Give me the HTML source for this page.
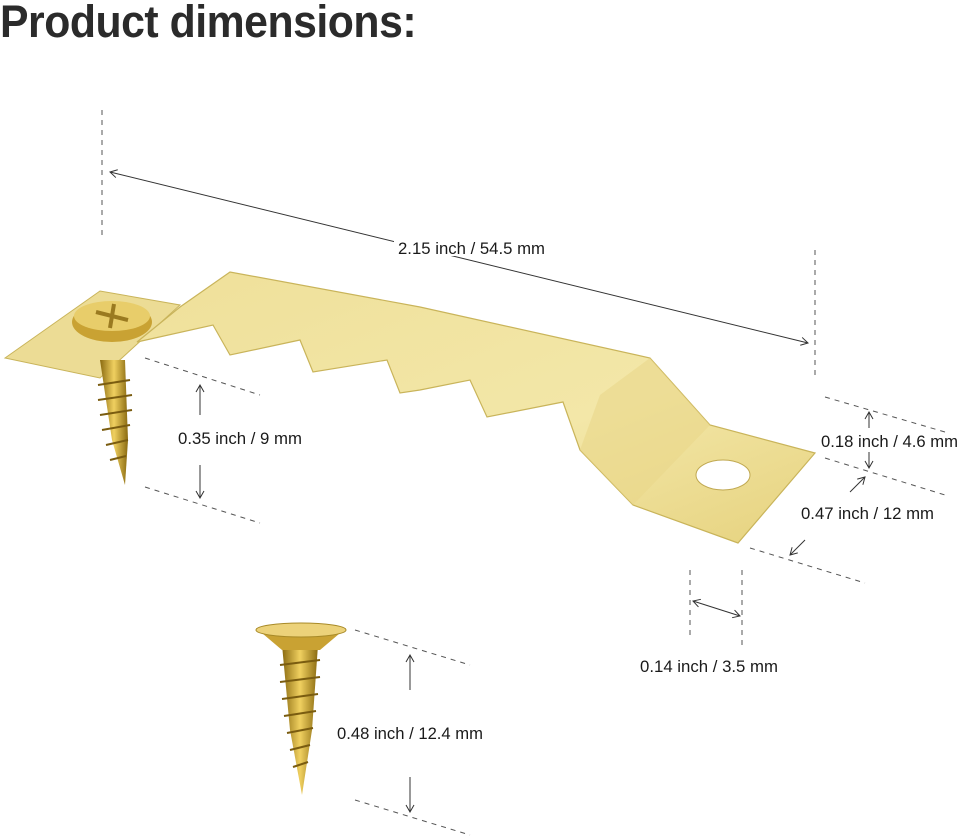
<!DOCTYPE html>
<html><head><meta charset="utf-8"><style>
body{margin:0;background:#fff;width:960px;height:840px;overflow:hidden;position:relative;font-family:"Liberation Sans",sans-serif}
h1{position:absolute;left:0;top:-4px;margin:0;font-size:45px;font-weight:bold;color:#2b2b2b;transform:scaleX(0.95);transform-origin:0 0;letter-spacing:-0.5px;white-space:nowrap}
</style></head><body>
<h1>Product dimensions:</h1>
<svg width="960" height="840" style="position:absolute;left:0;top:0">
<defs>
<linearGradient id="g" x1="0" y1="0" x2="1" y2="1"><stop offset="0" stop-color="#efe09a"/><stop offset="0.6" stop-color="#f3e7a8"/><stop offset="1" stop-color="#e6d27e"/></linearGradient>
<linearGradient id="s" x1="0" y1="0" x2="1" y2="0"><stop offset="0" stop-color="#8a6a10"/><stop offset="0.5" stop-color="#f0d060"/><stop offset="1" stop-color="#8a6a10"/></linearGradient>
<marker id="a" markerWidth="10" markerHeight="10" refX="8" refY="5" orient="auto-start-reverse" markerUnits="userSpaceOnUse"><path d="M1,1 L8,5 L1,9" fill="none" stroke="#333" stroke-width="1"/></marker>
</defs>
<g fill="none" stroke="#555" stroke-width="1" stroke-dasharray="5,5">
<line x1="102" y1="110" x2="102" y2="238"/><line x1="815" y1="250" x2="815" y2="380"/>
<line x1="145" y1="358" x2="260" y2="395"/><line x1="145" y1="487" x2="260" y2="523"/>
<line x1="825" y1="397" x2="945" y2="432"/><line x1="825" y1="458" x2="945" y2="495"/>
<line x1="750" y1="548" x2="865" y2="583"/>
<line x1="690" y1="570" x2="690" y2="635"/><line x1="742" y1="570" x2="742" y2="650"/>
<line x1="355" y1="630" x2="470" y2="665"/><line x1="355" y1="800" x2="470" y2="835"/>
</g>
<g stroke="#333" stroke-width="1" fill="none">
<line x1="110" y1="172" x2="808" y2="343" marker-start="url(#a)" marker-end="url(#a)"/>
<line x1="200" y1="415" x2="200" y2="385" marker-end="url(#a)"/><line x1="200" y1="465" x2="200" y2="498" marker-end="url(#a)"/>
<line x1="869" y1="428" x2="869" y2="412" marker-end="url(#a)"/><line x1="869" y1="452" x2="869" y2="468" marker-end="url(#a)"/>
<line x1="850" y1="492" x2="865" y2="477" marker-end="url(#a)"/><line x1="805" y1="540" x2="790" y2="555" marker-end="url(#a)"/>
<line x1="693" y1="601" x2="740" y2="616" marker-start="url(#a)" marker-end="url(#a)"/>
<line x1="410" y1="690" x2="410" y2="655" marker-end="url(#a)"/><line x1="410" y1="777" x2="410" y2="812" marker-end="url(#a)"/>
</g>
<rect x="394" y="236" width="156" height="20" fill="#fff"/>
<polygon points="5,358 100,291 180,305 100,378" fill="#ecdc95" stroke="#c9b45a" stroke-width="1"/>
<polygon points="137,342 180,307 230,272 420,307 650,358 710,425 815,453 738,543 633,505 580,450 563,402 487,417 470,380 420,390 400,393 387,360 313,372 300,340 230,355 213,325" fill="url(#g)" stroke="#c9b45a" stroke-width="1.2"/>
<polygon points="650,358 710,425 633,505 580,450 600,395" fill="#e9d78a" opacity="0.6"/>
<ellipse cx="723" cy="475" rx="27" ry="15" fill="#fff" stroke="#c0a850"/>
<polygon points="100,360 125,360 128,440 125,485 112,440" fill="url(#s)"/>
<g stroke="#7a5c10" stroke-width="2"><line x1="98" y1="385" x2="130" y2="380"/><line x1="98" y1="400" x2="132" y2="395"/><line x1="100" y1="415" x2="132" y2="410"/><line x1="102" y1="430" x2="130" y2="425"/><line x1="106" y1="445" x2="128" y2="440"/><line x1="110" y1="460" x2="126" y2="456"/></g>
<ellipse cx="112" cy="322" rx="40" ry="20" fill="#c9a233"/>
<ellipse cx="112" cy="316" rx="38" ry="15" fill="#e8cd6a"/>
<path d="M96,312 L128,320 M114,304 L110,328" stroke="#9a7a20" stroke-width="4"/>
<polygon points="282,645 318,645 312,730 302,795 290,730" fill="url(#s)"/>
<g stroke="#7a5c10" stroke-width="2"><line x1="280" y1="665" x2="320" y2="660"/><line x1="280" y1="682" x2="320" y2="677"/><line x1="282" y1="699" x2="318" y2="694"/><line x1="284" y1="716" x2="316" y2="711"/><line x1="287" y1="733" x2="313" y2="728"/><line x1="290" y1="750" x2="310" y2="745"/><line x1="293" y1="767" x2="308" y2="762"/></g>
<path d="M256,628 L346,628 L320,650 L282,650 Z" fill="#c9a233"/>
<ellipse cx="301" cy="630" rx="45" ry="7" fill="#ecd27a" stroke="#a88a28"/>
<g font-family="Liberation Sans, sans-serif" font-size="17" fill="#1a1a1a">
<text x="398" y="254" textLength="147" lengthAdjust="spacingAndGlyphs">2.15 inch / 54.5 mm</text>
<text x="178" y="444" textLength="124" lengthAdjust="spacingAndGlyphs">0.35 inch / 9 mm</text>
<text x="821" y="447" textLength="137" lengthAdjust="spacingAndGlyphs">0.18 inch / 4.6 mm</text>
<text x="801" y="519" textLength="133" lengthAdjust="spacingAndGlyphs">0.47 inch / 12 mm</text>
<text x="640" y="672" textLength="138" lengthAdjust="spacingAndGlyphs">0.14 inch / 3.5 mm</text>
<text x="337" y="739" textLength="146" lengthAdjust="spacingAndGlyphs">0.48 inch / 12.4 mm</text>
</g>
</svg>
</body></html>
